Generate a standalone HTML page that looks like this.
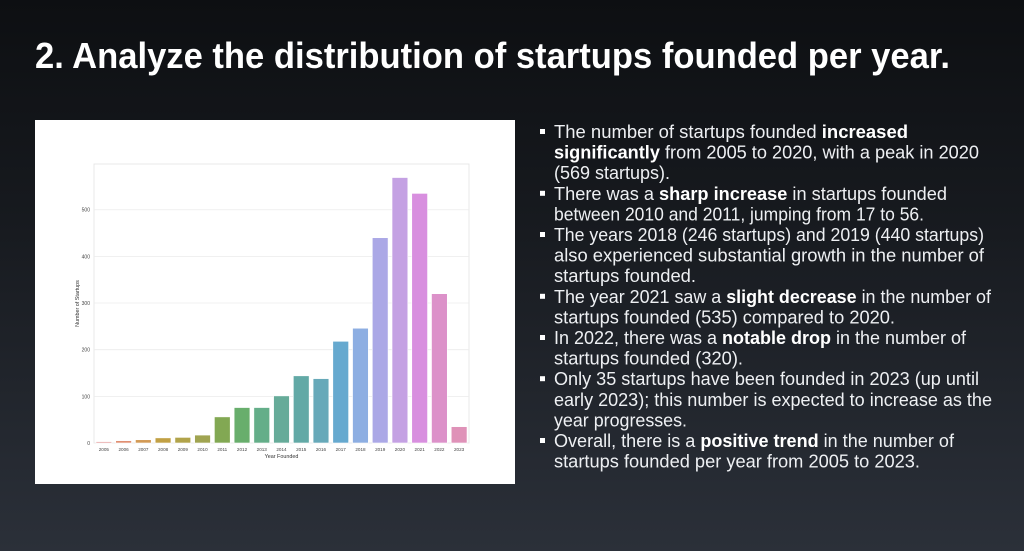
<!DOCTYPE html>
<html><head><meta charset="utf-8">
<style>
html,body{margin:0;padding:0}
body{width:1024px;height:551px;overflow:hidden;background:linear-gradient(180deg,#0d0f12 0%,#171a1f 40%,#2b3039 100%);font-family:"Liberation Sans",sans-serif;position:relative}
svg{position:absolute;left:0;top:0}
</style></head>
<body>
<svg width="1024" height="551">
<text x="35" y="68" fill="#fff" font-weight="bold" font-size="36" textLength="915" lengthAdjust="spacingAndGlyphs">2. Analyze the distribution of startups founded per year.</text>
<rect x="35" y="120" width="480" height="364" fill="#fff"/>
<g id="chart"></g>
<g id="bullets" fill="#eef0f3" font-size="18"></g>
</svg>
<script>
const years=["2005","2006","2007","2008","2009","2010","2011","2012","2013","2014","2015","2016","2017","2018","2019","2020","2021","2022","2023"];
const counts=[3,5,7,11,12,17,56,76,76,101,144,138,218,246,440,569,535,320,35];
const yTicks=[0,100,200,300,400,500];
const colors=["#e6a3a3","#e08f72","#d29a55","#c1a044","#b1a34a","#a0a451","#82a853","#68ae6c","#64ae89","#66ab99","#62a9a6","#67a9b9","#66a9cf","#8daee2","#aba8e6","#c4a1e3","#d88fdf","#dc91c9","#df92b8"];
const NS="http://www.w3.org/2000/svg";
const g=document.getElementById('chart');
const L=94,R=469,T=164,B=443,YMAX=598;
function y(v){return B-(v/YMAX)*(B-T);}
const band=(R-L)/years.length;
function x(i){return L+band*i;}
function mk(t,a,p){const e=document.createElementNS(NS,t);for(const k in a)e.setAttribute(k,a[k]);(p||g).appendChild(e);return e;}
mk('rect',{x:L,y:T,width:R-L,height:B-T,fill:'#fff',stroke:'#e3e3e3','stroke-width':0.8});
yTicks.forEach(v=>{
  const ln=mk('line',{x1:L,x2:R,y1:y(v),y2:y(v),stroke:'#ececec','stroke-width':0.8});
  
  
  const t=mk('text',{x:L-4,y:y(v)+2,'text-anchor':'end','font-size':5,fill:'#444'});
  t.textContent=v;
  
  
});
years.forEach((yr,i)=>{
  const w=band*0.8;
  const r=mk('rect',{x:x(i)+band*0.1,y:y(counts[i]),width:w,height:B-y(counts[i]),fill:colors[i],stroke:'#fff','stroke-width':0.6});
  
  
  const t=mk('text',{x:x(i)+band/2,y:B+8,'text-anchor':'middle','font-size':4.6,fill:'#444'});
  t.textContent=yr;
  
  
});
const xt=mk('text',{x:(L+R)/2,y:B+15,'text-anchor':'middle','font-size':5.4,fill:'#333'});
xt.textContent='Year Founded';


const yt=mk('text',{x:0,y:0,'text-anchor':'middle','font-size':5.4,fill:'#333',transform:'translate(79,'+((T+B)/2)+') rotate(-90)'});
yt.textContent='Number of Startups';



const lines=[
 [1,[["The number of startups founded ",0],["increased",1]],354],
 [0,[["significantly",1],[" from 2005 to 2020, with a peak in 2020",0]],425],
 [0,[["(569 startups).",0]],116],
 [1,[["There was a ",0],["sharp increase",1],[" in startups founded",0]],393],
 [0,[["between 2010 and 2011, jumping from 17 to 56.",0]],370],
 [1,[["The years 2018 (246 startups) and 2019 (440 startups)",0]],430],
 [0,[["also experienced substantial growth in the number of",0]],430],
 [0,[["startups founded.",0]],142],
 [1,[["The year 2021 saw a ",0],["slight decrease",1],[" in the number of",0]],437],
 [0,[["startups founded (535) compared to 2020.",0]],341],
 [1,[["In 2022, there was a ",0],["notable drop",1],[" in the number of",0]],412],
 [0,[["startups founded (320).",0]],189],
 [1,[["Only 35 startups have been founded in 2023 (up until",0]],425],
 [0,[["early 2023); this number is expected to increase as the",0]],438],
 [0,[["year progresses.",0]],133],
 [1,[["Overall, there is a ",0],["positive trend",1],[" in the number of",0]],400],
 [0,[["startups founded per year from 2005 to 2023.",0]],366]
];
const bg=document.getElementById('bullets');
lines.forEach((ln,i)=>{
  const by=138+i*20.6;
  if(ln[0]){
    const b=mk('rect',{x:540,y:by-9,width:5,height:5,fill:'#fff'},bg);
    
    
  }
  const t=mk('text',{x:554,y:by,textLength:ln[2],lengthAdjust:'spacingAndGlyphs'},bg);
  
  
  ln[1].forEach(s=>{const sp=mk('tspan',{},t);sp.textContent=s[0];if(s[1]){sp.setAttribute('font-weight','bold');sp.setAttribute('fill','#fff');}});
});
</script>
</body></html>
